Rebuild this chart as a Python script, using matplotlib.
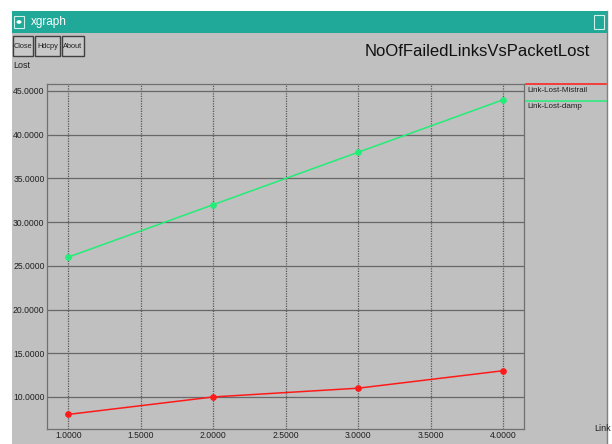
import matplotlib
matplotlib.use("Agg")
import matplotlib.pyplot as plt
from matplotlib.patches import Rectangle, Circle
from matplotlib.lines import Line2D

failed_links = [1, 2, 3, 4]
lost_mistrail = [8, 10, 11, 13]
lost_damp = [26, 32, 38, 44]
x_ticks = [1.0, 1.5, 2.0, 2.5, 3.0, 3.5, 4.0]
y_ticks = [10, 15, 20, 25, 30, 35, 40, 45]
series_names = ["Link-Lost-Mistrail", "Link-Lost-damp"]
series_colors = ["#ff1a1a", "#22ee77"]
title = "NoOfFailedLinksVsPacketLost"

W, H = 612, 444
fig = plt.figure(figsize=(W / 100, H / 100), dpi=100)
fig.patch.set_facecolor("white")
FONT = ["Liberation Sans Narrow", "Liberation Sans", "DejaVu Sans"]

def px(x, y):
    return x / W, 1 - y / H

def rect(x0, y0, x1, y1, z=-5, **kw):
    fig.patches.append(Rectangle(px(x0, y1), (x1 - x0) / W, (y1 - y0) / H,
                                 transform=fig.transFigure, zorder=z, **kw))

# window body & title bar
rect(12, 11, 607, 444, facecolor="#c0c0c0", edgecolor="none", z=-10)
rect(12, 11, 607, 33, facecolor="#20a898", edgecolor="none", z=-9)
rect(14, 16, 24, 28, facecolor="#20a898", edgecolor="#d0f0ea", lw=0.8, z=-8)
fig.patches.append(Circle(px(19, 22), 2.5 / W, transform=fig.transFigure,
                          facecolor="white", edgecolor="none", zorder=-7))
rect(594, 15, 604, 29, facecolor="#20a898", edgecolor="#d0f0ea", lw=0.8, z=-8)
fig.text(*px(31, 22), "xgraph", color="white", fontsize=8.5, family=FONT,
         va="center", ha="left")
fig.add_artist(Line2D([607 / W, 607 / W], [0, 1 - 11 / H], color="#808080",
                      lw=1, transform=fig.transFigure, zorder=-6))

# buttons
for (x0, x1, lab) in [(13, 33, "Close"), (35, 60, "Hdcpy"), (62, 84, "About")]:
    rect(x0, 36, x1, 56, facecolor="#c8c8c8", edgecolor="#404040", lw=1, z=-6)
    fig.text(*px((x0 + x1) / 2, 46), lab, fontsize=5.3, family=FONT,
             ha="center", va="center", color="#202020")

fig.text(*px(590, 52), title, fontsize=12, family=FONT, ha="right",
         va="center", color="#101010")
fig.text(*px(13, 66), "Lost", fontsize=6.5, family=FONT, ha="left",
         va="center", color="#202020")
fig.text(*px(594, 428), "Link", fontsize=6.5, family=FONT, ha="left",
         va="center", color="#202020")

# plot area
L, R, T, B = 46.7, 524, 84, 429
ax = fig.add_axes([L / W, 1 - B / H, (R - L) / W, (B - T) / H])
ax.set_facecolor("#c0c0c0")
ax.set_xlim(0.85, 4.143)
ax.set_ylim(6.33, 45.8)
ax.set_xticks(x_ticks)
ax.set_yticks(y_ticks)
ax.set_xticklabels([f"{v:.4f}" for v in x_ticks])
ax.set_yticklabels([f"{v:.4f}" for v in y_ticks])
ax.tick_params(length=0, labelsize=6.2, colors="#202020", pad=1.5)
for lab in ax.get_xticklabels() + ax.get_yticklabels():
    lab.set_family(FONT)
for v in y_ticks:
    ax.axhline(v, color="#686868", lw=0.9, zorder=1)
for v in x_ticks:
    ax.axvline(v, color="#585858", lw=0.9, ls=(0, (1, 1)), zorder=1)
for s in ax.spines.values():
    s.set_color("#707070")
    s.set_linewidth(0.9)

for vals, c in zip([lost_mistrail, lost_damp], series_colors):
    ax.plot(failed_links, vals, color=c, lw=1.1, marker="o", ms=3.8,
            mec=c, mfc=c, zorder=3)

# legend
for i, (name, c) in enumerate(zip(series_names, series_colors)):
    y = 84 + 17 * i
    fig.add_artist(Line2D([526 / W, 606 / W], [1 - y / H, 1 - y / H],
                          color=c, lw=1.1, transform=fig.transFigure))
    fig.text(*px(527, y + 6), name, fontsize=5.8, family=FONT, ha="left",
             va="center", color="#202020")

fig.savefig("out.png", dpi=100)
